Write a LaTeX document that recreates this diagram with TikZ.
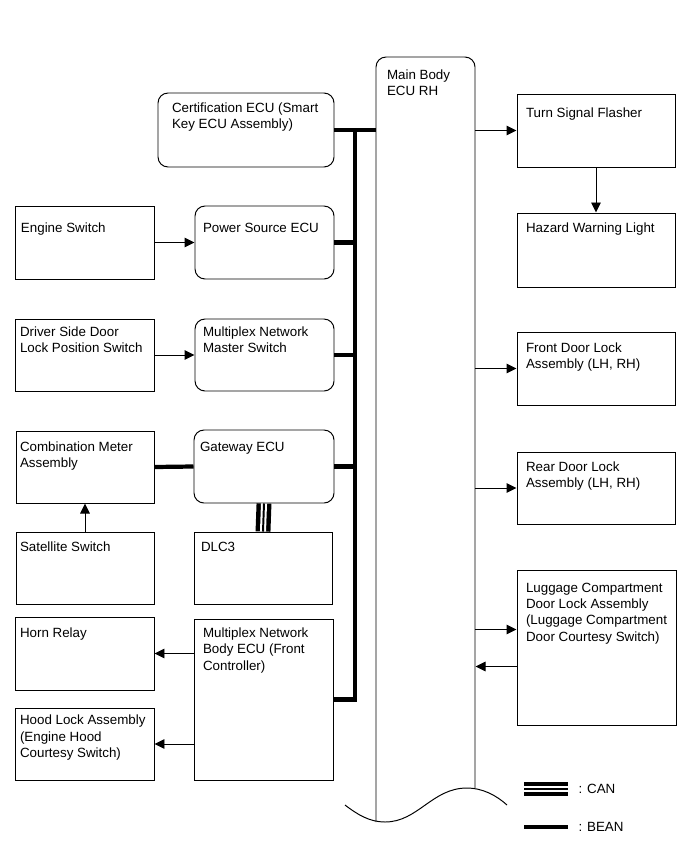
\documentclass[tikz,border=0pt]{standalone}
\usepackage{fontspec}
\setmainfont{Liberation Sans}
\usetikzlibrary{arrows.meta,positioning,calc,fit}

\begin{document}
\begin{tikzpicture}[x=0.025cm,y=-0.025cm,
  line width=0.7pt,
  txt/.style={anchor=north west,inner sep=0pt,align=left,font=\fontsize{9.5}{11.6}\selectfont},
  sq/.style={draw,inner sep=0pt},
  ecu/.style={sq,rounded corners=2.5mm},
  ar/.style={-{Triangle[length=2.5mm,width=2.4mm]}},
  bean/.style={line width=3pt},
  can/.style={line width=10.6pt,postaction={draw=white,line width=4.3pt},postaction={draw=black,line width=1.4pt}}
]
\useasboundingbox (0,0) rectangle (691,854);

% main body ECU with torn-off bottom
\node[fit={(376,57) (475,822)},inner sep=0pt] (main) {};
\draw[rounded corners=2.5mm] (376,822) -- (376,57) -- (475,57) -- (475,788);
\draw (345,805) .. controls (358,815) and (370,822) .. (385,822)
  .. controls (418,822) and (432,788) .. (467,788)
  .. controls (482,788) and (496,795) .. (507,805);
\node[txt] (mainT) at ($(main.north west)+(11,13)$) {Main Body\\ECU RH};

% left column
\node[ecu,fit={(158,93) (334,167)}] (cert) {};
\node[sq,fit={(15,206) (154,279)}] (esw) {};
\node[ecu,fit={(195,206) (334,279)}] (psecu) {};
\node[sq,fit={(15,319) (154,391)}] (dlsw) {};
\node[ecu,fit={(195,319) (334,391)}] (mmsw) {};
\node[sq,fit={(16,431) (154,503)}] (meter) {};
\node[ecu,fit={(194,430) (334,503)}] (gw) {};
\node[sq,fit={(16,532) (154,604)}] (sat) {};
\node[sq,fit={(194,532) (332,604)}] (dlc) {};
\node[sq,fit={(15,617) (154,690)}] (horn) {};
\node[sq,fit={(194,619) (333,780)}] (body) {};
\node[sq,fit={(15,708) (154,780)}] (hood) {};

\node[txt] (certT) at ($(cert.north west)+(14,10)$) {Certification ECU (Smart\\Key ECU Assembly)};
\node[txt] (eswT) at ($(esw.north west)+(6,17)$) {Engine Switch};
\node[txt] (psecuT) at ($(psecu.north west)+(8,17)$) {Power Source ECU};
\node[txt] (dlswT) at ($(dlsw.north west)+(5,8)$) {Driver Side Door\\Lock Position Switch};
\node[txt] (mmswT) at ($(mmsw.north west)+(8,8)$) {Multiplex Network\\Master Switch};
\node[txt] (meterT) at ($(meter.north west)+(4,11)$) {Combination Meter\\Assembly};
\node[txt] (gwT) at ($(gw.north west)+(6,12)$) {Gateway ECU};
\node[txt] (satT) at ($(sat.north west)+(4,10)$) {Satellite Switch};
\node[txt] (dlcT) at ($(dlc.north west)+(7,10)$) {DLC3};
\node[txt] (hornT) at ($(horn.north west)+(5,11)$) {Horn Relay};
\node[txt] (bodyT) at ($(body.north west)+(9,9)$) {Multiplex Network\\Body ECU (Front\\Controller)};
\node[txt] (hoodT) at ($(hood.north west)+(5,7)$) {Hood Lock Assembly\\(Engine Hood\\Courtesy Switch)};

% right column
\node[sq,fit={(517,94) (675,167)}] (tsf) {};
\node[sq,fit={(517,213) (675,287)}] (hzd) {};
\node[sq,fit={(517,332) (675,405)}] (fdoor) {};
\node[sq,fit={(517,452) (675,524)}] (rdoor) {};
\node[sq,fit={(517,570) (676,725)}] (lug) {};

\node[txt] (tsfT) at ($(tsf.north west)+(9,14)$) {Turn Signal Flasher};
\node[txt] (hzdT) at ($(hzd.north west)+(9,10)$) {Hazard Warning Light};
\node[txt] (fdoorT) at ($(fdoor.north west)+(9,11)$) {Front Door Lock\\Assembly (LH, RH)};
\node[txt] (rdoorT) at ($(rdoor.north west)+(9,10)$) {Rear Door Lock\\Assembly (LH, RH)};
\node[txt] (lugT) at ($(lug.north west)+(9,13)$) {Luggage Compartment\\Door Lock Assembly\\(Luggage Compartment\\Door Courtesy Switch)};

% BEAN bus
\coordinate (bus) at ($(cert.east)!0.5!(cert.east-|main.west)$);
\draw[bean] (cert.east) -- (cert.east-|main.west);
\draw[bean] (body.east) -| (bus);
\draw[bean] (psecu.east) -- (psecu.east-|bus);
\draw[bean] (mmsw.east) -- (mmsw.east-|bus);
\draw[bean] (gw.east) -- (gw.east-|bus);
\draw[bean] (meter.east) -- (gw.west);
\draw[can] (gw.south) -- (dlc.north);

% signal lines
\draw[ar] (esw) -- (psecu);
\draw[ar] (dlsw) -- (mmsw);
\draw[ar] (sat) -- (meter);
\draw[ar] (body.west|-horn.east) -- (horn.east);
\draw[ar] (body.west|-hood.east) -- (hood.east);
\draw[ar] (main.east|-tsf.west) -- (tsf.west);
\draw[ar] (tsf) -- (hzd);
\draw[ar] (main.east|-fdoor.west) -- (fdoor.west);
\draw[ar] (main.east|-rdoor.west) -- (rdoor.west);
\draw[ar] ($(main.east|-lug.west)+(0,-18)$) -- ($(lug.west)+(0,-18)$);
\draw[ar] ($(lug.west)+(0,19)$) -- ($(main.east|-lug.west)+(0,19)$);

% legend
\coordinate (canA) at (524,789);
\coordinate (canB) at (568,789);
\coordinate (beanA) at (524,827);
\coordinate (beanB) at (568,827);
\draw[can] (canA) -- (canB);
\draw[bean] (beanA) -- (beanB);
\node[txt,anchor=west] (canT) at ($(canB)+(10,0)$) {: CAN};
\node[txt,anchor=west] (beanT) at ($(beanB)+(10,0)$) {: BEAN};
\end{tikzpicture}
\end{document}
